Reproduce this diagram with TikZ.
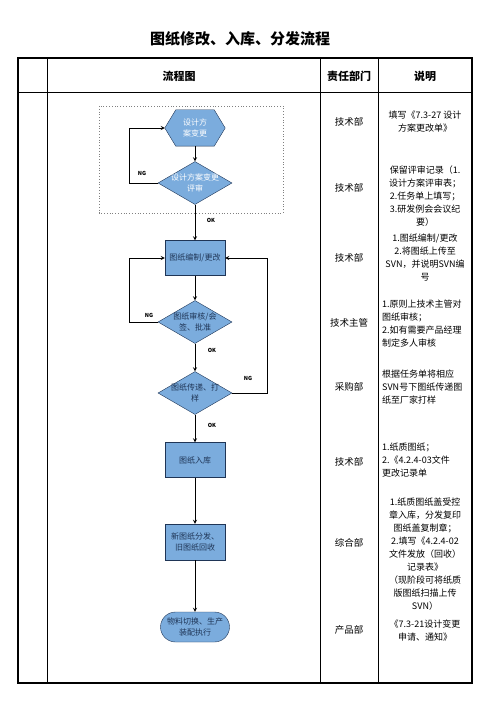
\documentclass[tikz,border=0pt]{standalone}
\usepackage{fontspec}
\setmainfont{Noto Sans CJK SC}
\usepackage{xcolor}
\definecolor{bleu}{HTML}{7BACDD}
\definecolor{marine}{HTML}{1F3556}
\usepackage{tikz}
\usetikzlibrary{shapes.geometric}
\usetikzlibrary{shapes.misc}
\usetikzlibrary{backgrounds}

\begin{document}
\begin{tikzpicture}[x=1pt, y=-1pt, >=stealth,
    etape/.style={shape=rectangle, draw=marine, fill=bleu, minimum width=60pt, minimum height=35pt, inner sep=0pt, align=center, text=marine, font=\fontsize{8}{11}\selectfont},
    choix/.style={shape=diamond, draw=marine, fill=bleu, minimum width=74pt, minimum height=43pt, inner sep=0pt},
    mot/.style={align=center, inner sep=0pt, font=\fontsize{8}{11}\selectfont},
    finale/.style={shape=rounded rectangle, draw=marine, fill=bleu, minimum width=69pt, minimum height=30pt, inner sep=0pt, align=center, text=marine, font=\fontsize{8}{11}\selectfont},
    marque/.style={font=\fontsize{5.5}{6}\selectfont\bfseries, inner sep=0pt},
    dept/.style={font=\fontsize{9.5}{12}\selectfont, inner sep=0pt},
    note/.style={font=\fontsize{9}{13}\selectfont, inner sep=0pt}]
    \useasboundingbox (0,0) rectangle (497,703);

    \node (titre) at (240,39) {\fontsize{15}{18}\selectfont\bfseries 图纸修改、入库、分发流程};

    % tableau
    \draw[line width=1.4pt] (18,58) rectangle (472,683);
    \draw[line width=0.9pt] (18,92) -- (472,92);
    \draw[line width=0.9pt] (47,58) -- (47,683);
    \draw[line width=0.9pt] (320,58) -- (320,683);
    \draw[line width=0.9pt] (378,58) -- (378,683);
    \node[font=\fontsize{11}{13}\selectfont\bfseries] (h1) at (179,76) {流程图};
    \node[font=\fontsize{11}{13}\selectfont\bfseries] (h2) at (349,76) {责任部门};
    \node[font=\fontsize{11}{13}\selectfont\bfseries] (h3) at (425,76) {说明};

    % flux
    \draw[gray, dotted, thick] (99,106) rectangle (283,213);
    \node[mot, text=white, minimum width=60pt, minimum height=36pt] (hex) at (195,128) {设计方\\案变更};
    \begin{scope}[on background layer]
        \draw[draw=marine, fill=bleu] (hex.west) -- ([xshift=11pt]hex.north west) -- ([xshift=-11pt]hex.north east)
            -- (hex.east) -- ([xshift=-11pt]hex.south east) -- ([xshift=11pt]hex.south west) -- cycle;
    \end{scope}
    \node[choix, label={[mot, text=white]center:设计方案变更\\评审}] (d1) at (195,183) {};
    \node[etape] (r1) at (195,258) {图纸编制/更改};
    \node[choix, label={[mot, text=marine]center:图纸审核/会\\签、批准}] (d2) at (195,322) {};
    \node[choix, label={[mot, text=marine]center:图纸传递、打\\样}] (d3) at (195,393) {};
    \node[etape] (r2) at (195,460) {图纸入库};
    \node[etape, minimum height=36pt] (r3) at (195,542) {新图纸分发、\\旧图纸回收};
    \node[finale] (fin) at (195,627) {物料切换、生产\\装配执行};

    \draw[->, thick] (hex) -- (d1);
    \draw[->, thick] (d1) -- (r1);
    \draw[->, thick] (r1) -- (d2);
    \draw[->, thick] (d2) -- (d3);
    \draw[->, thick] (d3) -- (r2);
    \draw[->, thick] (r2) -- (r3);
    \draw[->, thick] (r3) -- (fin);
    \draw[->, thick] (d1.west) -- ++(-28,0) |- (hex.west);
    \draw[->, thick] (d2.west) -- ++(-28,0) |- (r1.west);
    \draw[->, thick] (d3.east) -- ++(35,0) |- (r1.east);

    \node[marque] (ng1) at (142,173) {NG};
    \node[marque] (ok1) at (211,220) {OK};
    \node[marque] (ng2) at (149,315) {NG};
    \node[marque] (ok2) at (212,350) {OK};
    \node[marque] (ng3) at (248,378) {NG};
    \node[marque] (ok3) at (212,425) {OK};

    % responsables
    \node[dept] (s1) at (349,122) {技术部};
    \node[dept] (s2) at (349,188) {技术部};
    \node[dept] (s3) at (349,258) {技术部};
    \node[dept] (s4) at (349,323) {技术主管};
    \node[dept] (s5) at (349,387) {采购部};
    \node[dept] (s6) at (349,462) {技术部};
    \node[dept] (s7) at (349,543) {综合部};
    \node[dept] (s8) at (349,630) {产品部};

    % explications
    \node[note, align=center] (e1) at (425,122) {填写《7.3-27 设计\\方案更改单》};
    \node[note, align=center] (e2) at (425,196) {保留评审记录（1.\\设计方案评审表；\\2.任务单上填写；\\3.研发例会会议纪\\要）};
    \node[note, align=center] (e3) at (425,258) {1.图纸编制/更改\\2.将图纸上传至\\SVN，并说明SVN编\\号};
    \node[note, align=left, anchor=west] (e4) at (382,324) {1.原则上技术主管对\\图纸审核；\\2.如有需要产品经理\\制定多人审核};
    \node[note, align=left, anchor=west] (e5) at (382,387) {根据任务单将相应\\SVN号下图纸传递图\\纸至厂家打样};
    \node[note, align=left, anchor=west] (e6) at (382,460) {1.纸质图纸；\\2.《4.2.4-03文件\\更改记录单};
    \node[note, align=center] (e7) at (425,554) {1.纸质图纸盖受控\\章入库，分发复印\\图纸盖复制章；\\2.填写《4.2.4-02\\文件发放（回收）\\记录表》\\（现阶段可将纸质\\版图纸扫描上传\\SVN）};
    \node[note, align=center] (e8) at (425,631) {《7.3-21设计变更\\申请、通知》};
\end{tikzpicture}
\end{document}
